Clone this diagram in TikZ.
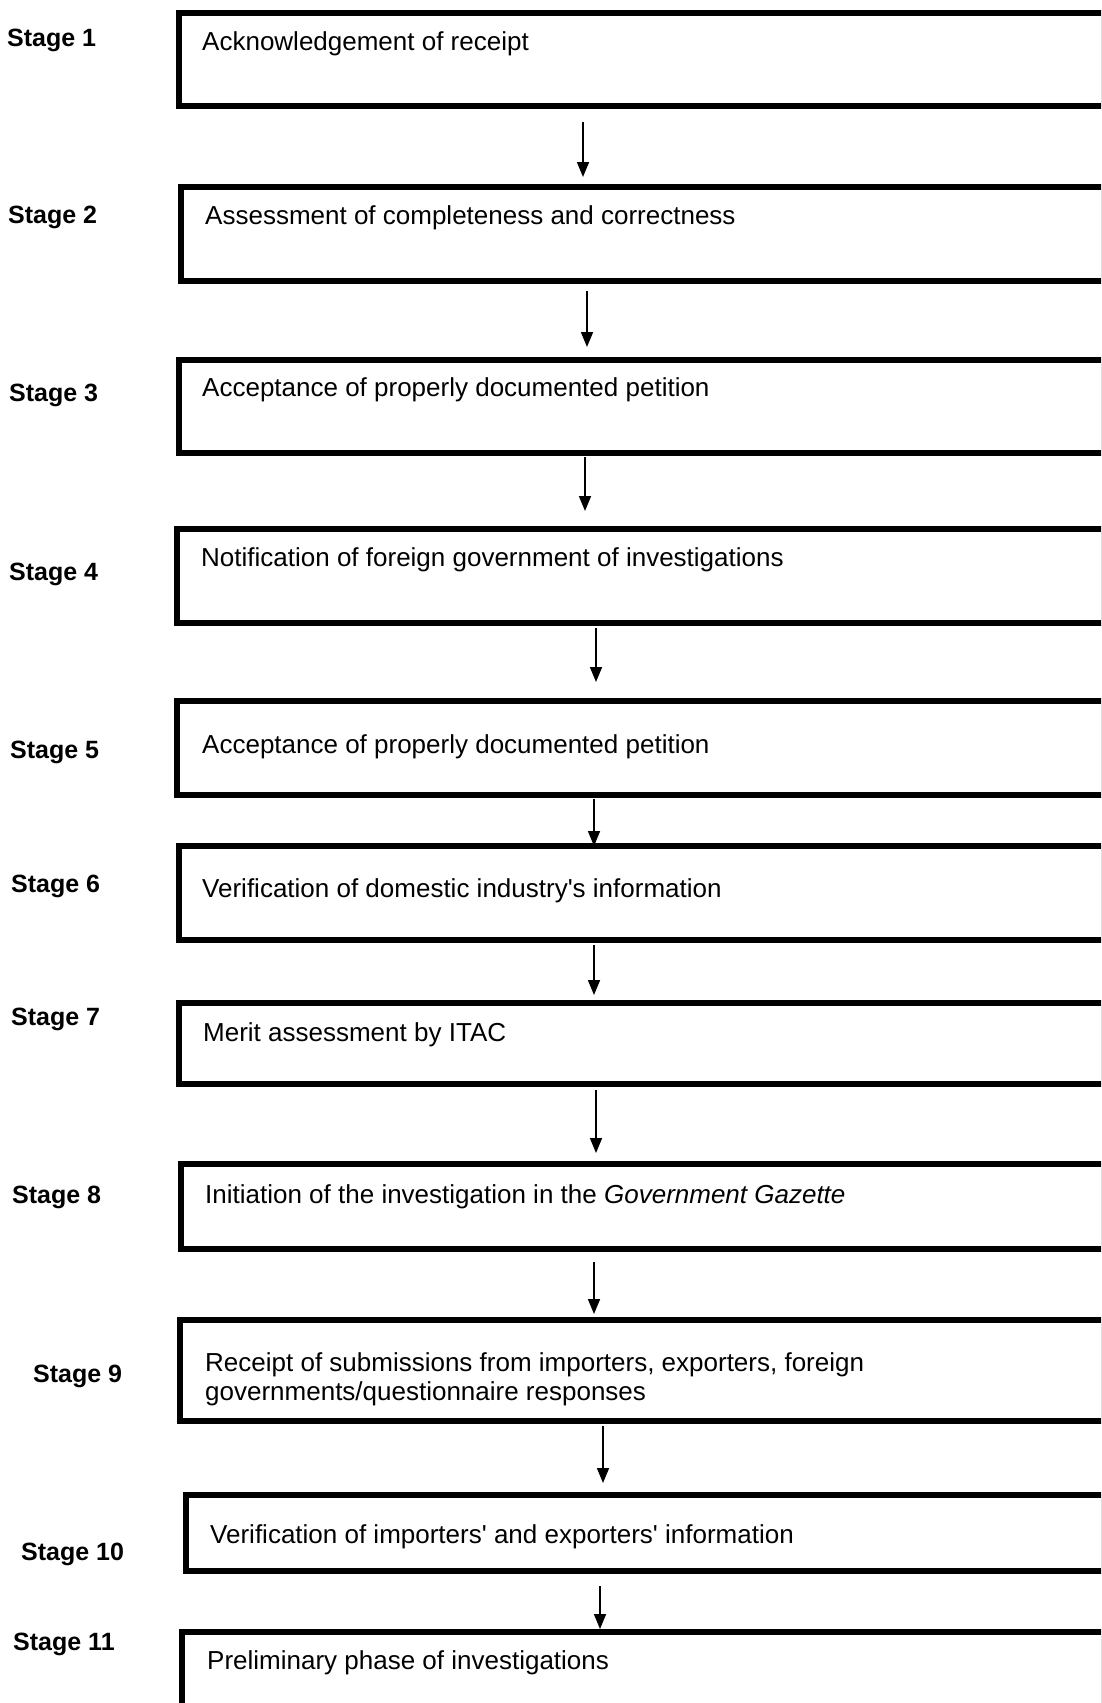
\documentclass[tikz,border=0pt]{standalone}
\usepackage{fontspec}
\setmainfont{Liberation Sans}[Ligatures=TeXOff]
\usetikzlibrary{arrows.meta,calc}

\tikzset{
  stagebox/.style={draw=black, line width=5.5pt, rectangle, anchor=north west,
    inner sep=0pt, outer sep=0pt},
  boxtext/.style={anchor=west, inner sep=0pt, align=left, yshift=-3pt,
    font=\fontsize{26}{30}\selectfont},
  stagelabel/.style={anchor=west, inner sep=0pt, yshift=-2.5pt,
    font=\fontsize{25}{30}\selectfont\bfseries},
  flow/.style={line width=1.6pt, -{Triangle[length=15pt,width=12pt]}}
}

\begin{document}
\begin{tikzpicture}[x=1pt, y=-1pt]
  \useasboundingbox (0,0) rectangle (1101,1703);
  \clip (0,0) rectangle (1101,1703);

  % process boxes (open on the right edge of the sheet)
  \node[stagebox, minimum width=925pt, minimum height=93pt] (b1) at (179,13) {};
  \node[stagebox, minimum width=923pt, minimum height=94pt] (b2) at (181,187) {};
  \node[stagebox, minimum width=925pt, minimum height=93pt] (b3) at (179,360) {};
  \node[stagebox, minimum width=927pt, minimum height=94pt] (b4) at (177,529) {};
  \node[stagebox, minimum width=927pt, minimum height=94pt] (b5) at (177,701) {};
  \node[stagebox, minimum width=925pt, minimum height=94pt] (b6) at (179,846) {};
  \node[stagebox, minimum width=925pt, minimum height=81pt] (b7) at (179,1003) {};
  \node[stagebox, minimum width=923pt, minimum height=85pt] (b8) at (181,1164) {};
  \node[stagebox, minimum width=924pt, minimum height=101pt] (b9) at (180,1320) {};
  \node[stagebox, minimum width=918pt, minimum height=76pt] (b10) at (186,1495) {};
  \node[stagebox, minimum width=922pt, minimum height=120pt] (b11) at (182,1632) {};

  % box texts
  \node[boxtext] (t1) at (202,41) {Acknowledgement of receipt};
  \node[boxtext] (t2) at (205,215) {Assessment of completeness and correctness};
  \node[boxtext] (t3) at (202,387) {Acceptance of properly documented petition};
  \node[boxtext] (t4) at (201,557) {Notification of foreign government of investigations};
  \node[boxtext] (t5) at (202,744) {Acceptance of properly documented petition};
  \node[boxtext] (t6) at (202,888) {Verification of domestic industry's information};
  \node[boxtext] (t7) at (203,1032) {Merit assessment by ITAC};
  \node[boxtext] (t8) at (205,1194) {Initiation of the investigation in the \textit{Government Gazette}};
  \node[boxtext, font=\fontsize{26}{29}\selectfont] (t9) at (205,1376)
    {Receipt of submissions from importers, exporters, foreign\\governments/questionnaire responses};
  \node[boxtext] (t10) at (210,1534) {Verification of importers' and exporters' information};
  \node[boxtext] (t11) at (207,1660) {Preliminary phase of investigations};

  % stage labels
  \node[stagelabel] (s1) at (7,38) {Stage 1};
  \node[stagelabel] (s2) at (8,215) {Stage 2};
  \node[stagelabel] (s3) at (9,393) {Stage 3};
  \node[stagelabel] (s4) at (9,572) {Stage 4};
  \node[stagelabel] (s5) at (10,750) {Stage 5};
  \node[stagelabel] (s6) at (11,884) {Stage 6};
  \node[stagelabel] (s7) at (11,1017) {Stage 7};
  \node[stagelabel] (s8) at (12,1195) {Stage 8};
  \node[stagelabel] (s9) at (33,1374) {Stage 9};
  \node[stagelabel] (s10) at (21,1552) {Stage 10};
  \node[stagelabel] (s11) at (13,1642) {Stage 11};

  % arrows between consecutive stages
  \draw[flow] ($(b1.south west)+(404,16)$) -- ($(b2.north west)+(402,-10)$);
  \draw[flow] ($(b2.south west)+(406,10)$) -- ($(b3.north west)+(408,-13)$);
  \draw[flow] ($(b3.south west)+(406,4)$) -- ($(b4.north west)+(408,-18)$);
  \draw[flow] ($(b4.south west)+(419,5)$) -- ($(b5.north west)+(419,-19)$);
  \draw[flow] ($(b5.south west)+(417,4)$) -- ($(b6.north west)+(415,0)$);
  \draw[flow] ($(b6.south west)+(415,5)$) -- ($(b7.north west)+(415,-8)$);
  \draw[flow] ($(b7.south west)+(417,6)$) -- ($(b8.north west)+(415,-11)$);
  \draw[flow] ($(b8.south west)+(413,13)$) -- ($(b9.north west)+(414,-6)$);
  \draw[flow] ($(b9.south west)+(423,5)$) -- ($(b10.north west)+(417,-12)$);
  \draw[flow] ($(b10.south west)+(414,15)$) -- ($(b11.north west)+(418,-3)$);
\end{tikzpicture}
\end{document}
